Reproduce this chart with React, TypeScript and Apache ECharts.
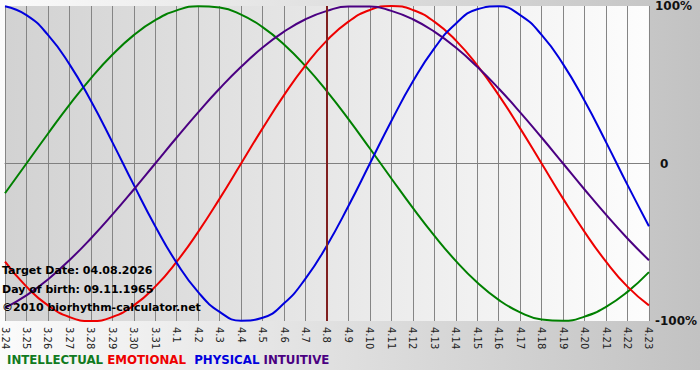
import React, { useEffect, useRef } from "react";
import * as echarts from "echarts";

const categories = [
  "3.24", "3.25", "3.26", "3.27", "3.28", "3.29", "3.30", "3.31",
  "4.1", "4.2", "4.3", "4.4", "4.5", "4.6", "4.7", "4.8", "4.9", "4.10",
  "4.11", "4.12", "4.13", "4.14", "4.15", "4.16", "4.17", "4.18", "4.19",
  "4.20", "4.21", "4.22", "4.23",
];

const intellectual = [
  -18.9, 0, 18.9, 37.2, 54.1, 69.0, 81.5, 91.0, 97.2, 99.9, 99.0, 94.5, 86.6,
  75.6, 61.8, 45.8, 28.2, 9.5, -9.5, -28.2, -45.8, -61.8, -75.6, -86.6, -94.5,
  -99.0, -99.9, -97.2, -91.0, -81.5, -69.0,
];

const emotional = [
  -62.3, -78.2, -90.1, -97.5, -100, -97.5, -90.1, -78.2, -62.3, -43.4, -22.3,
  0, 22.3, 43.4, 62.3, 78.2, 90.1, 97.5, 100, 97.5, 90.1, 78.2, 62.3, 43.4,
  22.3, 0, -22.3, -43.4, -62.3, -78.2, -90.1,
];

const physical = [
  99.8, 94.2, 81.7, 63.1, 39.8, 13.6, -13.6, -39.8, -63.1, -81.7, -94.2, -99.8,
  -97.9, -88.8, -73.1, -52.0, -27.0, 0, 27.0, 52.0, 73.1, 88.8, 97.9, 99.8,
  94.2, 81.7, 63.1, 39.8, 13.6, -13.6, -39.8,
];

const intuitive = [
  -91.6, -83.7, -73.6, -61.4, -47.6, -32.5, -16.5, 0, 16.5, 32.5, 47.6, 61.4,
  73.6, 83.7, 91.6, 96.9, 99.7, 99.7, 96.9, 91.6, 83.7, 73.6, 61.4, 47.6, 32.5,
  16.5, 0, -16.5, -32.5, -47.6, -61.4,
];

const targetCategory = "4.8";
const infoLines = [
  "Target Date: 04.08.2026",
  "Day of birth: 09.11.1965",
  "©2010 biorhythm-calculator.net",
];

const COLORS = {
  intellectual: "#008000",
  emotional: "#ee0000",
  physical: "#0000dd",
  intuitive: "#4b0082",
};

export default function App() {
  const ref = useRef<HTMLDivElement>(null);

  useEffect(() => {
    if (!ref.current) return;
    const chart = echarts.init(ref.current, null, { renderer: "svg" });
    const font = "'DejaVu Sans', Verdana, sans-serif";
    const mkLine = (name: string, data: number[], color: string, extra: any = {}) => ({
      name,
      type: "line",
      data,
      smooth: true,
      showSymbol: false,
      symbol: "none",
      lineStyle: { color, width: 2 },
      itemStyle: { color },
      z: 3,
      ...extra,
    });
    const legendFont = "bold 11.8px " + font;
    chart.setOption({
      animation: false,
      backgroundColor: "transparent",
      grid: {
        left: 0,
        right: 49,
        top: 1,
        bottom: 59,
        show: true,
        borderWidth: 0,
        backgroundColor: new echarts.graphic.LinearGradient(0, 0, 1, 0, [
          { offset: 0, color: "#d2d2d2" },
          { offset: 1, color: "#fdfdfd" },
        ]),
      },
      xAxis: {
        type: "category",
        data: categories,
        boundaryGap: false,
        axisLine: { show: true, lineStyle: { color: "#808080", width: 1 } },
        axisTick: { show: true, interval: 0, length: 5, lineStyle: { color: "#808080" } },
        axisLabel: {
          interval: 0,
          rotate: -90,
          fontSize: 10,
          color: "#222",
          fontFamily: font,
          margin: 6,
        },
        splitLine: { show: true, interval: 0, lineStyle: { color: "#858585", width: 1 } },
      },
      yAxis: {
        type: "value",
        position: "right",
        min: -100,
        max: 100,
        interval: 100,
        axisLine: { show: false },
        axisTick: { show: false },
        axisLabel: {
          formatter: (v: number) => (v === 0 ? "{z|0}" : v + "%"),
          fontSize: 12,
          fontWeight: "bold",
          color: "#111",
          fontFamily: font,
          margin: 6,
          rich: {
            z: {
              fontSize: 12,
              fontWeight: "bold",
              color: "#111",
              fontFamily: font,
              padding: [0, 0, 0, 5],
            },
          },
        },
        splitLine: {
          show: true,
          lineStyle: { color: ["rgba(0,0,0,0)", "#858585", "rgba(0,0,0,0)"], width: 1 },
        },
      },
      series: [
        mkLine("INTELLECTUAL", intellectual, COLORS.intellectual, {
          markLine: {
            silent: true,
            symbol: "none",
            label: { show: false },
            lineStyle: { color: "#802020", width: 2, type: "solid" },
            data: [{ xAxis: targetCategory }],
          },
        }),
        mkLine("EMOTIONAL", emotional, COLORS.emotional),
        mkLine("PHYSICAL", physical, COLORS.physical),
        mkLine("INTUITIVE", intuitive, COLORS.intuitive),
      ],
      graphic: [
        ...infoLines.map((t, i) => ({
          type: "text",
          left: 2,
          top: 265 + i * 18.5,
          z: 10,
          style: {
            text: t,
            font: "bold 11px " + font,
            fill: "#000",
          },
        })),
        {
          type: "text",
          left: 7,
          top: 354,
          z: 10,
          style: {
            text:
              "{g|INTELLECTUAL} {r|EMOTIONAL}  {b|PHYSICAL} {p|INTUITIVE}",
            font: legendFont,
            rich: {
              g: { fill: "#107a20", font: legendFont },
              r: { fill: COLORS.emotional, font: legendFont },
              b: { fill: COLORS.physical, font: legendFont },
              p: { fill: COLORS.intuitive, font: legendFont },
            },
          },
        },
      ],
    });
    return () => chart.dispose();
  }, []);

  return (
    <div
      style={{
        position: "fixed",
        left: 0,
        top: 0,
        width: 700,
        height: 380,
        background:
          "linear-gradient(#ffffff, #ffffff) bottom / 100% 10px no-repeat, linear-gradient(to right, #fbfbfb, #c2c2c2)",
      }}
    >
      <div ref={ref} style={{ width: 700, height: 380 }} />
    </div>
  );
}
